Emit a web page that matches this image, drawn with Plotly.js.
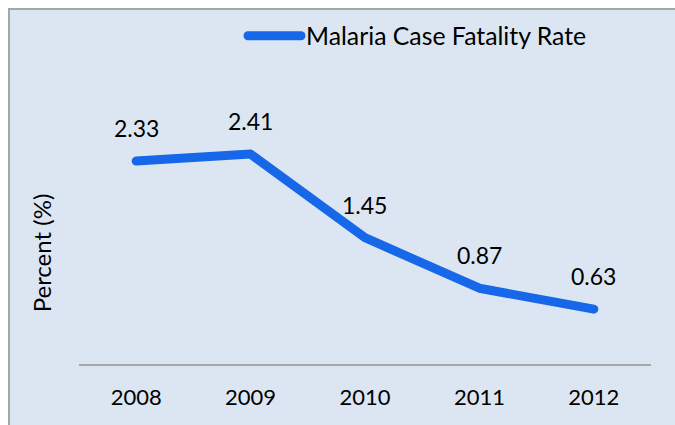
<!DOCTYPE html>
<html>
<head>
<meta charset="utf-8">
<script src="https://cdn.plot.ly/plotly-3.0.1.min.js"></script>
<style>
  html, body { margin: 0; padding: 0; background: #ffffff; }
  #frame { position: absolute; left: 8px; top: 8px; width: 700px; height: 450px;
           border-left: 2px solid #a6a6a6; border-top: 2px solid #a6a6a6; background: #dce6f2; }
  #chart { position: absolute; left: 0; top: 0; width: 675px; height: 425px; }
  .scatterlayer path.js-line, .legend path { stroke-linecap: round; stroke-linejoin: round; }
</style>
</head>
<body>
<div id="frame"></div>
<div id="chart"></div>
<script>
const years = ['2008', '2009', '2010', '2011', '2012'];
const fatalityRate = [2.33, 2.41, 1.45, 0.87, 0.63];
const seriesName = 'Malaria Case Fatality Rate';
const yTitle = 'Percent (%)';

const FONT = 'Lato, "Open Sans", sans-serif';
const lineColor = '#1668e8';

const trace = {
  x: years,
  y: fatalityRate,
  type: 'scatter',
  mode: 'lines',
  name: seriesName,
  line: { color: lineColor, width: 9 },
  cliponaxis: false,
  hoverinfo: 'skip'
};

const annotations = years.map((yr, i) => ({
  x: i, y: fatalityRate[i], xref: 'x', yref: 'y',
  text: fatalityRate[i].toFixed(2),
  showarrow: false, yshift: 33,
  font: { family: FONT, size: 23, color: '#000000' }
}));

const layout = {
  width: 675, height: 425,
  margin: { l: 60, r: 24, t: 142, b: 61, autoexpand: false },
  paper_bgcolor: 'rgba(0,0,0,0)',
  plot_bgcolor: 'rgba(0,0,0,0)',
  font: { family: FONT, size: 22, color: '#000000' },
  showlegend: true,
  legend: {
    orientation: 'h', xref: 'container', yref: 'container',
    x: 0.36, xanchor: 'left', y: 0.915, yanchor: 'middle',
    bgcolor: 'rgba(0,0,0,0)', font: { family: FONT, size: 24.8, color: '#000000' },
    itemwidth: 53
  },
  xaxis: {
    type: 'category', range: [-0.5, 4.5], domain: [0.0321, 1],
    showline: true, linecolor: '#a6a6a6', linewidth: 2,
    showgrid: false, zeroline: false, ticks: '',
    ticklabelstandoff: 13,
    tickfont: { family: FONT, size: 22, color: '#000000' },
    fixedrange: true
  },
  yaxis: {
    range: [0, 2.549], anchor: 'free', position: 0,
    showline: false, showgrid: false, zeroline: false, showticklabels: false, ticks: '',
    title: { text: yTitle, font: { family: FONT, size: 24, color: '#000000' }, standoff: 0 },
    fixedrange: true
  },
  annotations: annotations
};

Plotly.newPlot('chart', [trace], layout, { displayModeBar: false, staticPlot: true });
</script>
</body>
</html>
